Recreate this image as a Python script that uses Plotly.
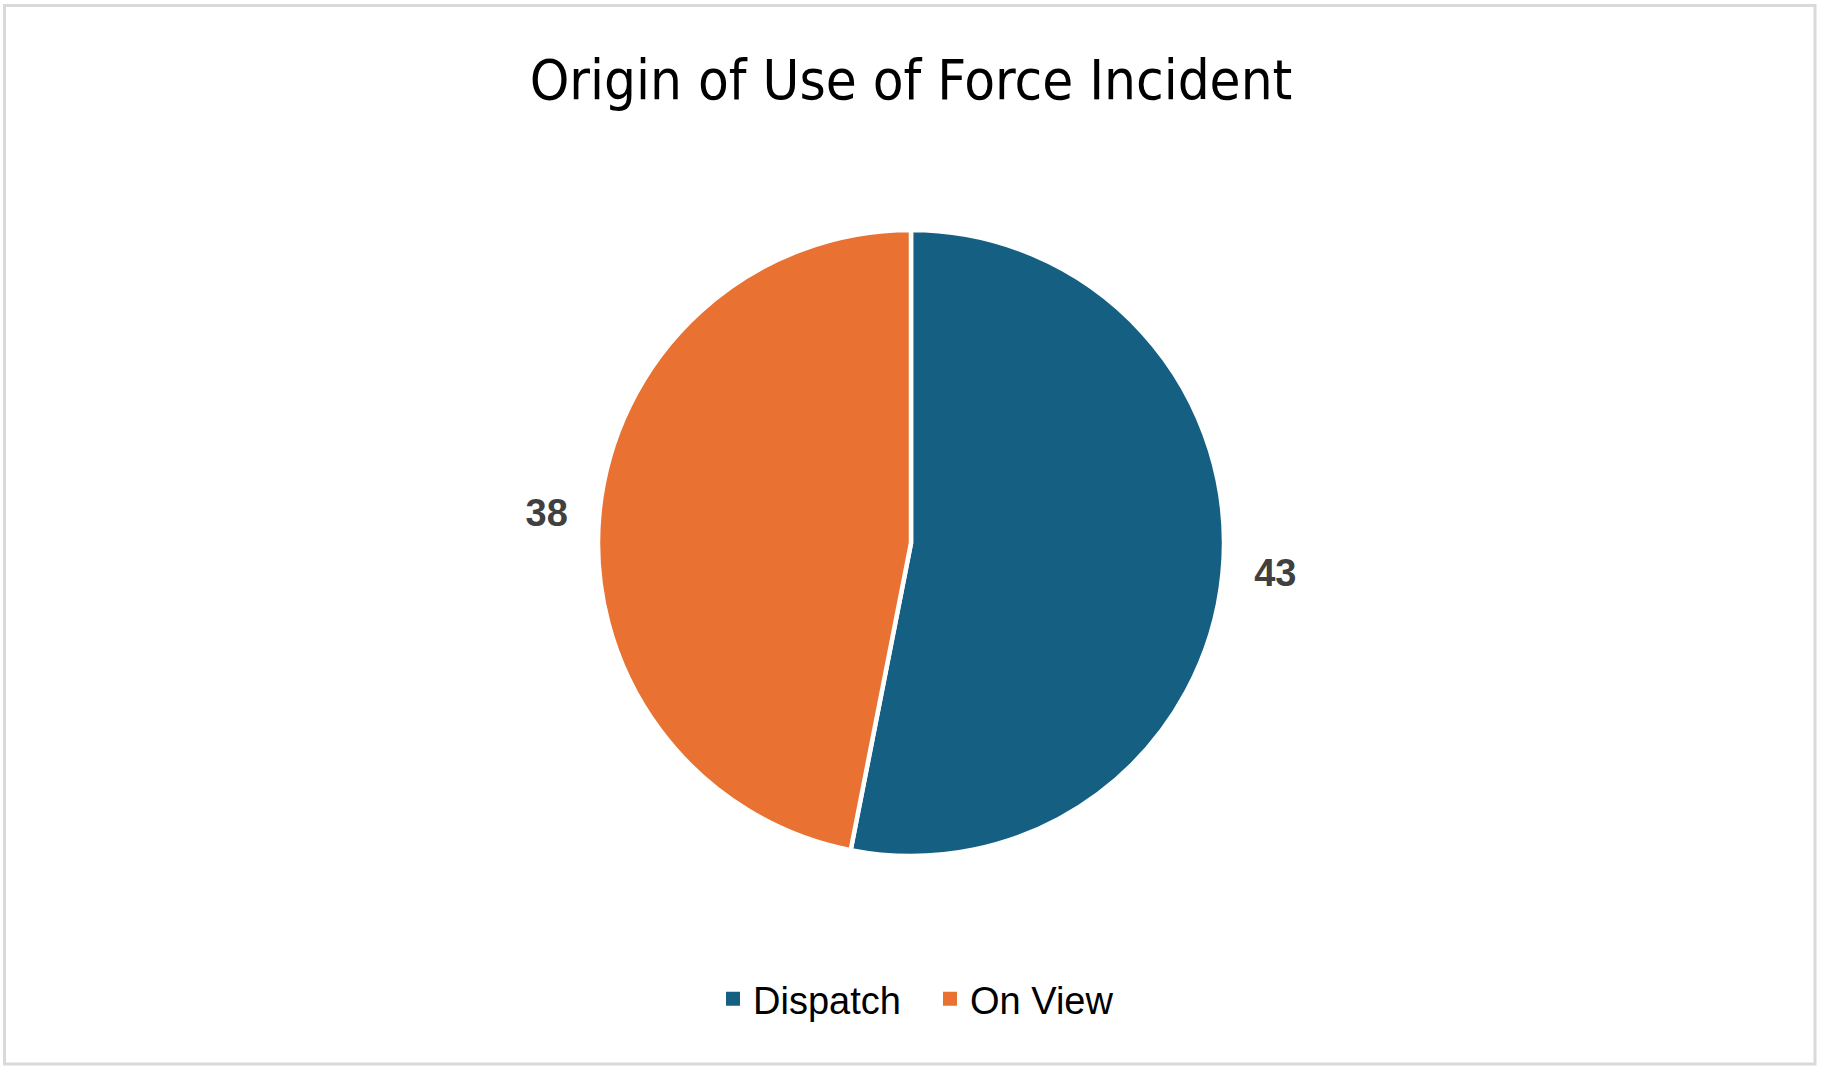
import plotly.graph_objects as go

# chart data
labels = ["Dispatch", "On View"]
counts = [43, 38]
colors = ["#156082", "#E97132"]

W, H = 1824, 1072
cx, cy, r = 911, 529, 313   # pie centre / radius in px (cy from bottom)

fig = go.Figure()

# the pie
fig.add_trace(go.Pie(
    labels=labels,
    values=counts,
    sort=False,
    direction="clockwise",
    rotation=0,
    showlegend=False,
    marker=dict(colors=colors, line=dict(color="white", width=4.5)),
    texttemplate=["\u00a0\u00a0%{value}", "%{value}\u00a0\u00a0"],
    textposition="outside",
    textfont=dict(family="Liberation Sans, Arial, sans-serif", size=38, color="#404040", weight="bold"),
    domain=dict(x=[(cx - r) / W, (cx + r) / W], y=[(cy - r) / H, (cy + r) / H]),
    hoverinfo="label+value+percent",
))

# legend entries with bigger square keys than the pie legend gives
for name, col in zip(labels, colors):
    fig.add_trace(go.Scatter(
        x=[None], y=[None], mode="markers", name=name,
        marker=dict(symbol="square", size=14, color=col),
        hoverinfo="skip",
    ))

fig.update_layout(
    width=W, height=H,
    margin=dict(l=0, r=0, t=0, b=0),
    paper_bgcolor="white",
    plot_bgcolor="white",
    xaxis=dict(visible=False),
    yaxis=dict(visible=False),
    title=dict(
        text="Origin of Use of Force Incident",
        x=cx / W, xanchor="center",
        y=1 - 79 / H, yanchor="middle",
        font=dict(family="Liberation Sans Narrow, Arial Narrow, DejaVu Sans Condensed, sans-serif", size=56, color="black"),
    ),
    legend=dict(
        orientation="h",
        x=(cx + 19) / W, xanchor="center",
        y=1 - 999 / H, yanchor="middle",
        entrywidth=172,
        font=dict(family="Liberation Sans, Arial, sans-serif", size=38, color="black"),
    ),
    shapes=[dict(type="rect", xref="paper", yref="paper",
                 x0=4.5 / W, x1=1815 / W, y0=1 - 1064 / H, y1=1 - 5.5 / H,
                 line=dict(color="#d9d9d9", width=3))],
)

fig.write_html("out.html", config={"displayModeBar": False},
               post_script="document.body.style.margin='0';document.body.style.overflow='hidden';")
